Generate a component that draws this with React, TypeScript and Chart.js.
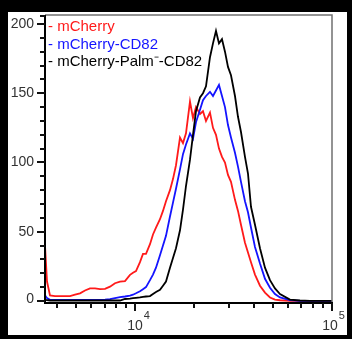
import React, { useEffect, useRef } from "react";
import { Chart, registerables } from "chart.js";

Chart.register(...registerables);

// Fluorescence intensity (bin positions, log scale)
const fluorescence = [
  3491, 3574, 3701, 3924, 4160, 4410, 4676, 4957, 5256, 5572,
  5907, 6263, 6640, 7039, 7463, 7912, 8388, 8893, 9428, 9765,
  10113, 10597, 10975, 11367, 11911, 12336, 12777, 13388, 13866, 14361,
  15048, 15585, 16142, 16915, 17518, 18143, 19012, 19691, 20393, 21370,
  22132, 22922, 24019, 24876, 25764, 26684, 27636, 28622, 29644, 30702,
  32171, 33320, 34509, 36160, 37451, 38788, 40644, 43090, 45684, 48433,
  51348, 54439, 61175, 68762, 77290, 86869, 100000,
];

const mCherry = [
  40, 14, 4, 3.5, 3.5, 3.5, 3.5, 4.5, 5.5, 7.5,
  9, 9, 8.5, 8.7, 10.3, 12.8, 14, 14.3, 18.8, 20.4,
  21.5, 28, 34, 34, 41, 48, 53, 59, 65, 72,
  80, 88, 98, 118, 114, 121, 144, 132, 140, 135,
  137, 130, 136, 125, 120, 110, 104, 100, 91, 86,
  73, 65, 55, 42, 35, 28, 19, 11, 6, 2.5,
  1, 0.5, 0, 0, 0, 0, 0,
];

const mCherryCD82 = [
  4, 2, 0.8, 0.7, 0.7, 0.7, 0.7, 0.7, 0.7, 0.7,
  0.7, 0.7, 0.8, 1, 1.3, 2, 2.7, 3.2, 3.8, 4.5,
  5.5, 7, 8.5, 10, 15, 19, 24, 33, 40, 47,
  61, 71, 81, 95, 106, 113, 121, 117, 129, 138,
  145, 148, 151, 148, 152, 156, 148, 140, 127, 118,
  107, 97, 86, 72, 64, 53, 39, 27, 16, 9.5,
  5, 2.5, 0.5, 0, 0, 0, 0,
];

const mCherryPalmCD82 = [
  1, 0.5, 0.3, 0.3, 0.3, 0.3, 0.3, 0.3, 0.3, 0.3,
  0.3, 0.3, 0.3, 0.3, 0.3, 0.3, 0.3, 1.4, 1.7, 2,
  2.2, 2.5, 3, 3.2, 3.5, 5, 6.5, 8, 11, 14,
  24, 31, 38, 51, 66, 83, 102, 120, 137, 147,
  150, 155, 176, 186, 195, 186, 189, 180, 169, 163,
  148, 133, 122, 104, 92, 68, 55, 38, 24, 15,
  9, 5, 1, 0.3, 0, 0, 0,
];

const seriesNames = ["mCherry", "mCherry-CD82", "mCherry-Palm\u207B-CD82"];
const seriesColors = ["#ff1a1a", "#1414ff", "#000000"];

const yMajorTicks = [0, 50, 100, 150, 200];
const yMinorTicks = [10, 20, 30, 40, 60, 70, 80, 90, 110, 120, 130, 140, 160, 170, 180, 190];
const xMajorTicks = [10000, 100000];
const xMajorExponents = ["4", "5"];
const xMinorTicks = [4000, 5000, 6000, 7000, 8000, 9000, 20000, 30000, 40000, 50000, 60000, 70000, 80000, 90000];

const FONT = "'Liberation Sans', Arial, sans-serif";

export default function App() {
  const ref = useRef<HTMLCanvasElement>(null);

  useEffect(() => {
    const canvas = ref.current;
    if (!canvas) return;
    const pts = (ys: number[]) => fluorescence.map((x, i) => ({ x, y: ys[i] }));

    const axesPlugin = {
      id: "flowAxes",
      afterDraw(chart: any) {
        const { ctx, chartArea, scales } = chart;
        const { left, top, right, bottom } = chartArea;
        const xs = scales.x;
        const ys = scales.y;
        ctx.save();
        // grey frame top/right
        ctx.strokeStyle = "#707070";
        ctx.lineWidth = 1.5;
        ctx.beginPath();
        ctx.moveTo(left, top);
        ctx.lineTo(right, top);
        ctx.lineTo(right, bottom);
        ctx.stroke();
        // black axes
        ctx.fillStyle = "#000";
        ctx.fillRect(left - 1, top, 2, bottom - top + 1);
        ctx.fillRect(left - 1, bottom - 1, right - left + 2, 2);

        // ticks
        ctx.fillStyle = "#111";
        for (const v of yMajorTicks) {
          const py = Math.round(ys.getPixelForValue(v));
          ctx.fillRect(left - 8, py - 1, 8, 2);
        }
        for (const v of yMinorTicks) {
          const py = Math.round(ys.getPixelForValue(v));
          ctx.fillRect(left - 5, py - 1, 5, 2);
        }
        ctx.fillRect(left - 5, top, 5, 2);
        for (const v of xMajorTicks) {
          const px = Math.round(xs.getPixelForValue(v));
          ctx.fillRect(px - 1, bottom, 2, 8);
        }
        for (const v of xMinorTicks) {
          const px = Math.round(xs.getPixelForValue(v));
          ctx.fillRect(px - 1, bottom, 2, 5);
        }

        // y labels
        ctx.fillStyle = "#333";
        ctx.font = `14px ${FONT}`;
        ctx.textAlign = "right";
        ctx.textBaseline = "middle";
        for (const v of yMajorTicks) {
          const py = ys.getPixelForValue(v);
          ctx.fillText(String(v), left - 11, v === 0 ? py - 2 : py);
        }
        // x labels 10^n
        xMajorTicks.forEach((v, i) => {
          const px = xs.getPixelForValue(v);
          ctx.font = `14px ${FONT}`;
          ctx.textAlign = "center";
          ctx.textBaseline = "middle";
          const w = ctx.measureText("10").width;
          const cx = i === xMajorTicks.length - 1 ? px - 2 : px;
          ctx.fillText("10", cx, bottom + 23);
          ctx.font = `11px ${FONT}`;
          ctx.textAlign = "left";
          ctx.fillText(xMajorExponents[i], cx + w / 2 + 1, bottom + 13);
        });

        // legend
        ctx.font = `15px ${FONT}`;
        ctx.textAlign = "left";
        ctx.textBaseline = "middle";
        seriesNames.forEach((name, i) => {
          ctx.fillStyle = seriesColors[i];
          ctx.fillText(`- ${name}`, left + 3, top + 12 + i * 17.5);
        });
        ctx.restore();
      },
    };

    const chart = new Chart(canvas, {
      type: "line",
      data: {
        datasets: [
          { label: seriesNames[2], data: pts(mCherryPalmCD82), borderColor: seriesColors[2], order: 1 },
          { label: seriesNames[1], data: pts(mCherryCD82), borderColor: seriesColors[1], order: 2 },
          { label: seriesNames[0], data: pts(mCherry), borderColor: seriesColors[0], order: 3 },
        ].map((d) => ({ ...d, borderWidth: 1.8, pointRadius: 0, tension: 0, fill: false })),
      },
      options: {
        animation: false,
        responsive: false,
        devicePixelRatio: 1,
        layout: { padding: { left: 37, top: 3, right: 15, bottom: 32 } },
        scales: {
          x: { type: "logarithmic", min: 3491, max: 100000, display: false },
          y: { type: "linear", min: -1.5, max: 206.5, display: false },
        },
        plugins: { legend: { display: false }, tooltip: { enabled: false } },
      },
      plugins: [axesPlugin],
    });
    return () => chart.destroy();
  }, []);

  return (
    <div style={{ position: "fixed", left: 0, top: 0, width: 352, height: 339, background: "#000" }}>
      <div style={{ position: "absolute", left: 8, top: 12, width: 339, height: 323, background: "#fff" }}>
        <canvas ref={ref} width={339} height={323} style={{ width: 339, height: 323, display: "block" }} />
      </div>
    </div>
  );
}
